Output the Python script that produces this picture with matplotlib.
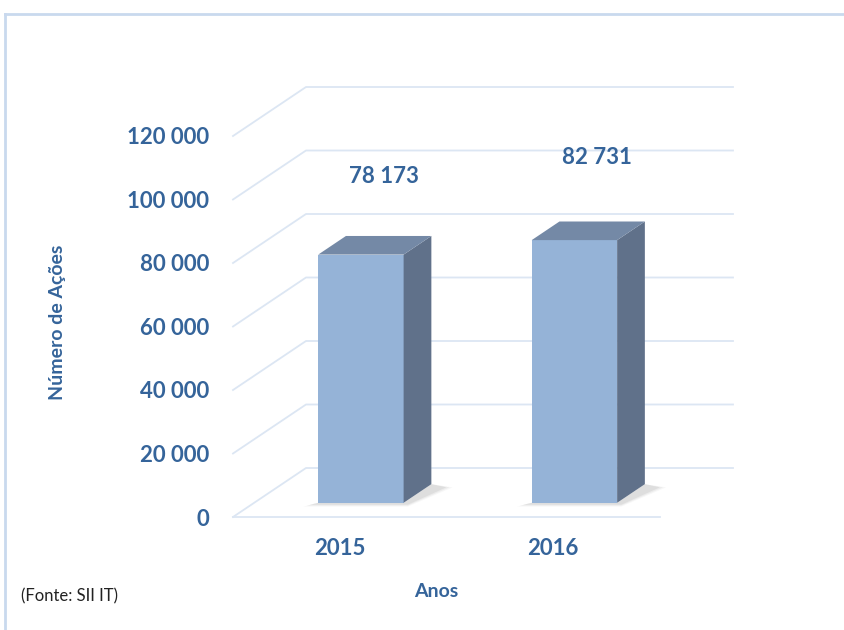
import numpy as np
import matplotlib
matplotlib.use("Agg")
import matplotlib.pyplot as plt
from matplotlib.patches import Polygon, Rectangle
from matplotlib.lines import Line2D

# data
anos = ["2015", "2016"]
acoes = [78173, 82731]
yticks = [0, 20000, 40000, 60000, 80000, 100000, 120000]

txt_col = "#35649A"
grid_col = "#DCE6F3"
front_col = "#95B3D7"
side_col = "#60718A"
top_col = "#7489A6"

def fmt(v):
    return f"{v:,}".replace(",", " ")

plt.rcParams["font.family"] = ["Lato", "DejaVu Sans"]

fig = plt.figure(figsize=(8.45, 6.3), dpi=100)
W, H = 845, 630
# front plane of the 3d box
ax = fig.add_axes([233 / W, 1 - 517 / H, 427 / W, 381 / H])
ax.set_xlim(0, len(anos))
ax.set_ylim(0, 120000)
for s in ax.spines.values():
    s.set_visible(False)
ax.patch.set_alpha(0)

# depth vector of the box (data units)
DX = 73 / 213.5
DY = 49 / 63.5 * 20000
d0, bd, w = 0.29, 0.38, 0.2

# walls / gridlines
for t in yticks:
    ax.add_line(Line2D([0, DX, len(anos) + DX], [t, t + DY, t + DY],
                       color=grid_col, lw=1.3, clip_on=False, zorder=1))
ax.add_line(Line2D([0, len(anos)], [0, 0], color=grid_col, lw=1.3,
                   clip_on=False, zorder=1))

# bars
for i, v in enumerate(acoes):
    c = i + 0.5
    xl = c - w + d0 * DX
    xr = c + w + d0 * DX
    yb = d0 * DY
    ox, oy = bd * DX, bd * DY
    # soft shadow at base
    for k, a in enumerate([0.04, 0.06, 0.08]):
        e = 0.04 - k * 0.015
        ax.add_patch(Polygon([(xl - e - 0.03, yb - 1200 + k * 300), (xr + 0.02, yb - 1200 + k * 300),
                              (xr + ox + 0.06 + e, yb + oy - 1000), (xr + ox, yb + oy),
                              (xr, yb), (xl, yb)],
                             closed=True, fc="#404040", ec="none", alpha=a,
                             clip_on=False, zorder=2))
    ax.add_patch(Rectangle((xl, yb), 2 * w, v, fc=front_col, ec="none",
                           clip_on=False, zorder=3))
    ax.add_patch(Polygon([(xr, yb), (xr + ox, yb + oy), (xr + ox, v + yb + oy), (xr, v + yb)],
                         closed=True, fc=side_col, ec="none", clip_on=False, zorder=3))
    ax.add_patch(Polygon([(xl, v + yb), (xl + ox, v + yb + oy), (xr + ox, v + yb + oy), (xr, v + yb)],
                         closed=True, fc=top_col, ec="none", clip_on=False, zorder=3))
    ax.text(c + 0.6 * DX, v * 1.37, fmt(v), ha="center", va="center",
            fontsize=16, fontweight="bold", color=txt_col, zorder=4)

ax.set_yticks(yticks)
ax.set_yticklabels([fmt(t) for t in yticks])
ax.set_xticks([i + 0.5 for i in range(len(anos))])
ax.set_xticklabels(anos)
ax.tick_params(axis="y", length=0, pad=17, labelsize=16, labelcolor=txt_col)
ax.tick_params(axis="x", length=0, pad=15, labelsize=16, labelcolor=txt_col)
for lab in ax.get_xticklabels() + ax.get_yticklabels():
    lab.set_fontweight("bold")

ax.set_ylabel("Número de Ações", fontsize=14, fontweight="bold", color=txt_col)
ax.yaxis.set_label_coords(-0.39, 0.512)
ax.set_xlabel("Anos", fontsize=14, fontweight="bold", color=txt_col)
ax.xaxis.set_label_coords(0.475, -0.174)

fig.text(21 / W, 1 - 596 / H, "(Fonte: SII IT)", fontsize=12, color="#222222",
         ha="left", va="center")

# outer frame
fig.add_artist(Line2D([5 / W, 5 / W], [0, 1 - 14 / H], color="#C9D9EE", lw=2))
fig.add_artist(Line2D([5 / W, 1], [1 - 14 / H, 1 - 14 / H], color="#C9D9EE", lw=2))

plt.savefig("out.png", dpi=100)
